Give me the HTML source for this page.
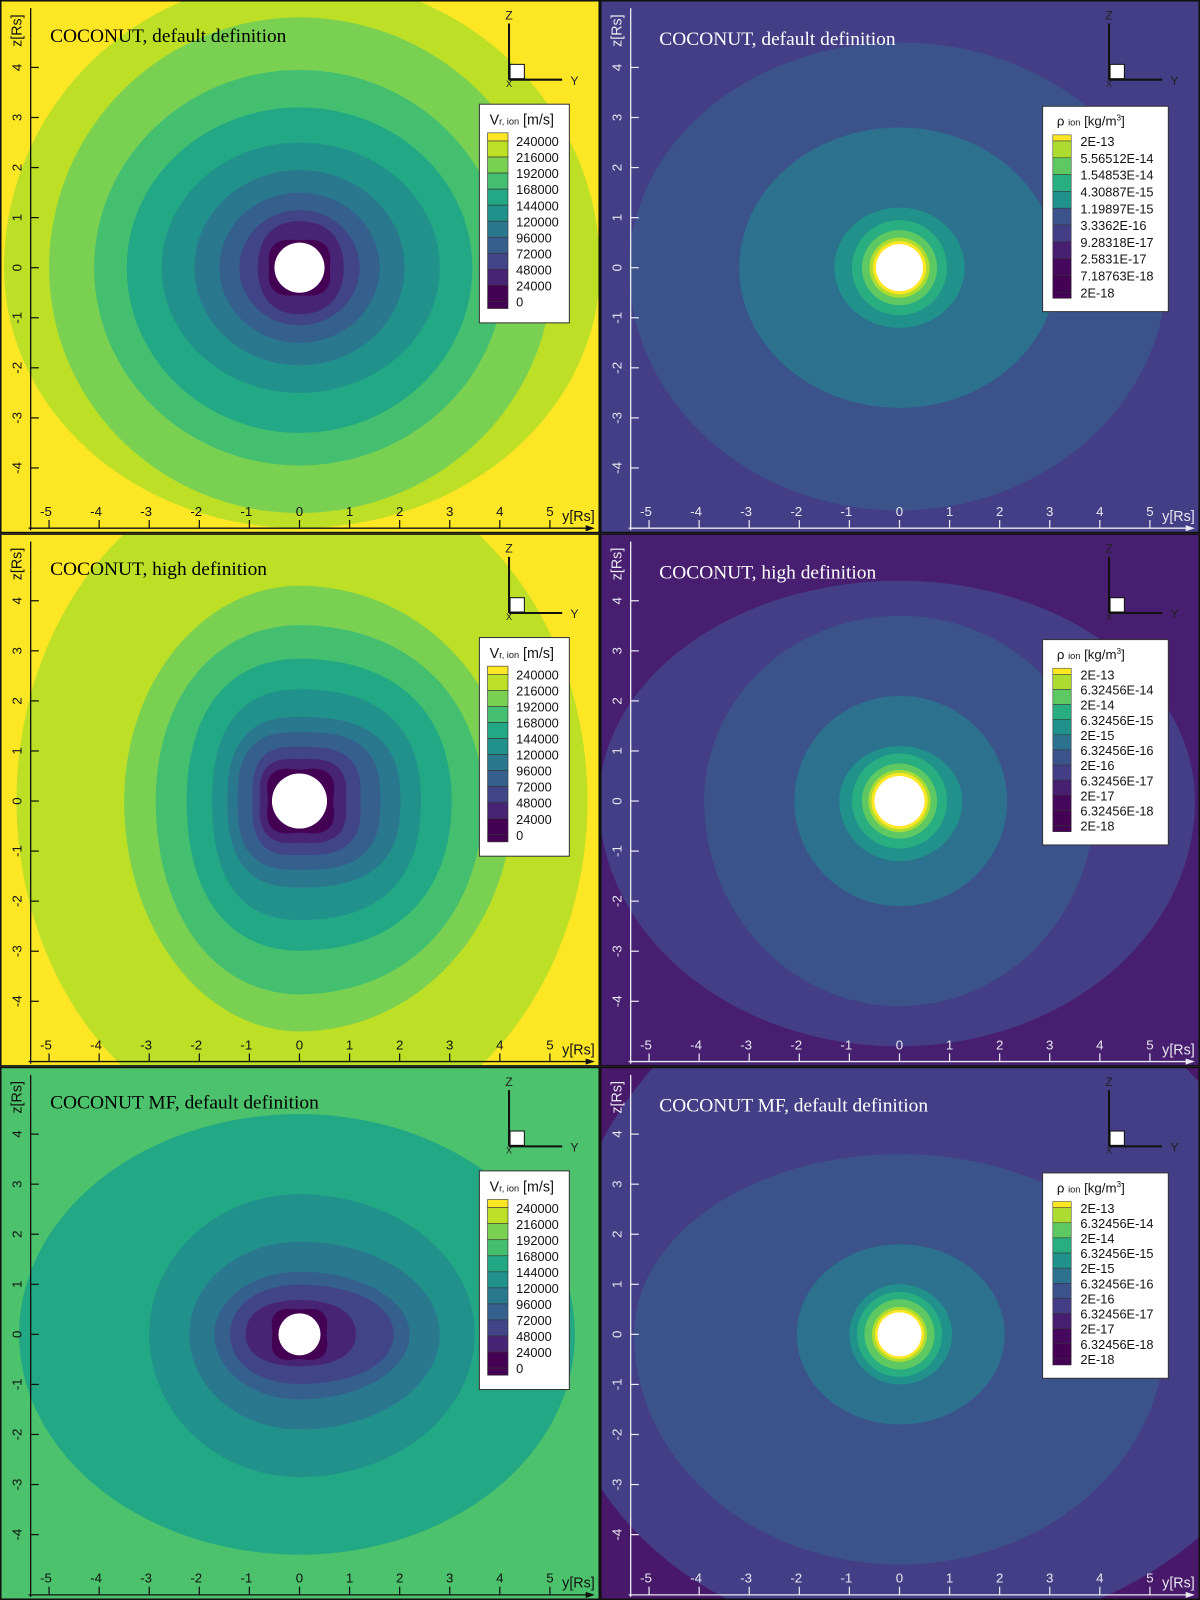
<!DOCTYPE html>
<html><head><meta charset="utf-8"><style>
html,body{margin:0;padding:0;background:#fff}
svg{display:block}
text{font-family:"Liberation Sans",sans-serif}
.ttl{font-family:"Liberation Serif",serif;font-size:19px}
</style></head><body>
<svg id="fig" xmlns="http://www.w3.org/2000/svg" width="1200" height="1600" viewBox="0 0 1174 1566" preserveAspectRatio="none"></svg>
<script>
// ---- data ----
const vrLevels = ["240000","216000","192000","168000","144000","120000","96000","72000","48000","24000","0"];
const rhoLevelsDefault = ["2E-13","5.56512E-14","1.54853E-14","4.30887E-15","1.19897E-15","3.3362E-16","9.28318E-17","2.5831E-17","7.18763E-18","2E-18"];
const rhoLevelsHigh = ["2E-13","6.32456E-14","2E-14","6.32456E-15","2E-15","6.32456E-16","2E-16","6.32456E-17","2E-17","6.32456E-18","2E-18"];
const vrColors = ["#fde725","#bddf26","#7ad151","#44bf70","#22a884","#21918c","#2a788e","#355f8d","#414487","#482475","#440154"];
const rhoColors = ["#fde725","#addc30","#5ec962","#28ae80","#21918c","#2c728e","#3b528b","#433e85","#481f70","#46085c","#440154"];
const yTicks = [-5,-4,-3,-2,-1,0,1,2,3,4,5];
const zTicks = [-4,-3,-2,-1,0,1,2,3,4];
// contour bands: [right, top, left, bottom, wave, color] (radii in Rs)
const p1Bands = [[6.0,5.8,5.9,5.2,0,"#bddf26"],[5.05,5.0,5.0,4.9,0,"#7ad151"],[4.1,3.95,4.1,3.95,0,"#44bf70"],[3.45,3.2,3.45,3.3,0,"#22a884"],[2.8,2.5,2.75,2.5,0,"#21918c"],[2.1,1.95,2.1,1.95,0,"#2a788e"],[1.6,1.5,1.6,1.5,0,"#355f8d"],[1.2,1.15,1.2,1.15,0,"#414487"],[0.9,0.95,0.85,0.95,0.02,"#482475"],[0.66,0.6,0.66,0.6,0.08,"#440154"]];
const p2Bands = [[5.35,4.5,5.4,4.85,0,"#3b528b"],[3.15,2.8,3.2,2.8,0,"#2c728e"],[1.3,1.2,1.3,1.2,0,"#21918c"],[0.95,0.95,0.95,0.95,0,"#28ae80"],[0.75,0.75,0.75,0.75,0,"#5ec962"],[0.6,0.6,0.6,0.6,0,"#addc30"],[0.53,0.53,0.53,0.53,0,"#fde725"]];
const p3Bands = [[5.75,6.8,5.65,6.8,0,"#bddf26"],[4.25,4.3,3.5,4.6,0,"#7ad151"],[3.7,3.55,2.9,3.9,0.01,"#44bf70"],[3.1,2.9,2.3,3.05,0.02,"#22a884"],[2.5,2.3,1.8,2.45,0.03,"#21918c"],[2.1,1.75,1.5,1.8,0.04,"#2a788e"],[1.7,1.45,1.3,1.45,0.05,"#355f8d"],[1.3,1.15,1.0,1.15,0.06,"#414487"],[1.0,0.9,0.85,0.9,0.07,"#482475"],[0.75,0.7,0.7,0.7,0.1,"#440154"]];
const p4Bands = [[5.9,4.4,6.0,4.9,0,"#433e85"],[3.9,3.7,3.9,4.1,0,"#3b528b"],[2.15,2.1,2.1,2.1,0,"#2c728e"],[1.25,1.1,1.2,1.2,0,"#21918c"],[0.95,0.95,0.95,0.95,0,"#28ae80"],[0.75,0.75,0.75,0.75,0,"#5ec962"],[0.62,0.62,0.62,0.62,0,"#addc30"],[0.56,0.56,0.56,0.56,0,"#fde725"]];
const p5Bands = [[5.5,4.4,5.6,4.4,0,"#22a884"],[3.5,2.8,3.0,2.85,0,"#21918c"],[2.8,1.85,2.2,1.9,0,"#2a788e"],[2.2,1.25,1.7,1.3,0,"#355f8d"],[1.9,1.0,1.4,1.0,0.01,"#414487"],[1.15,0.7,1.1,0.65,0.02,"#482475"],[0.6,0.55,0.6,0.55,0.1,"#440154"]];
const p6Bands = [[8.0,7.6,6.9,6.1,0,"#433e85"],[5.3,3.6,5.3,4.6,0,"#3b528b"],[2.1,1.8,2.05,1.8,0,"#2c728e"],[1.05,1.0,1.0,1.0,0,"#21918c"],[0.85,0.85,0.85,0.85,0,"#28ae80"],[0.7,0.7,0.7,0.7,0,"#5ec962"],[0.55,0.55,0.55,0.55,0,"#addc30"],[0.49,0.49,0.49,0.49,0,"#fde725"]];

const NS="http://www.w3.org/2000/svg";
const svg=document.getElementById('fig');
const U=49;
function mk(tag,attrs,parent){const e=document.createElementNS(NS,tag);for(const k in attrs)e.setAttribute(k,attrs[k]);(parent||svg).appendChild(e);return e;}
function txt(s,attrs,parent){const e=mk('text',attrs,parent);e.textContent=s;return e;}

const panels=[
 {ox:0,oy:0,bg:"#fde725",bands:p1Bands,white:0.5,title:"COCONUT, default definition",kind:"vr",dark:true,name:"vr-default"},
 {ox:587,oy:0,bg:"#433e85",bands:p2Bands,white:0.47,title:"COCONUT, default definition",kind:"rho",labels:rhoLevelsDefault,dark:false,name:"rho-default"},
 {ox:0,oy:522,bg:"#fde725",bands:p3Bands,white:0.55,title:"COCONUT, high definition",kind:"vr",dark:true,name:"vr-high"},
 {ox:587,oy:522,bg:"#481f70",bands:p4Bands,white:0.5,title:"COCONUT, high definition",kind:"rho",labels:rhoLevelsHigh,dark:false,name:"rho-high"},
 {ox:0,oy:1044,bg:"#4cc26c",bands:p5Bands,white:0.42,title:"COCONUT  MF, default definition",kind:"vr",dark:true,name:"vr-mf"},
 {ox:587,oy:1044,bg:"#48186a",bands:p6Bands,white:0.44,title:"COCONUT MF, default definition",kind:"rho",labels:rhoLevelsHigh,dark:false,name:"rho-mf"}
];

panels.forEach((p,i)=>{
 const W=587,H=522;
 const cx=p.ox+293, cy=p.oy+262;
 const sx=y=>cx+y*U, sz=z=>cy-z*U;
 const g=mk('g',{});
 
 
 const cp=mk('clipPath',{id:'cp'+i},g);
 mk('rect',{x:p.ox,y:p.oy,width:W,height:H},cp);
 const body=mk('g',{'clip-path':'url(#cp'+i+')'},g);
 const bg=mk('rect',{x:p.ox,y:p.oy,width:W,height:H,fill:p.bg},body);
 
 
 p.bands.forEach(b=>{
  const [R,T,L,B,w,col]=b;let d='';
  for(let k=0;k<=180;k++){const th=k*2*Math.PI/180;const c=Math.cos(th),s=Math.sin(th);
   const rx=c>=0?R:L, ry=s>=0?T:B; const f=1-w*Math.cos(4*th);
   d+=(k?'L':'M')+sx(rx*c*f).toFixed(1)+' '+sz(ry*s*f).toFixed(1);}
  const pa=mk('path',{d:d+'Z',fill:col},body);
  
  
 });
 const wc=mk('circle',{cx:cx,cy:cy,r:p.white*U,fill:'#fff'},body);
 
 
 const ac=p.dark?'#111':'#e8e8f0';
 const ax=p.ox+30, ay=p.oy+517;
 const zl=mk('line',{x1:ax,y1:p.oy+519,x2:ax,y2:p.oy+8,stroke:ac,'stroke-width':1.3},body);
 
 
 const yl=mk('line',{x1:p.ox+28,y1:ay,x2:p.ox+580,y2:ay,stroke:ac,'stroke-width':1.3},body);
 
 
 mk('path',{d:`M${p.ox+582} ${ay} l-9 -3 l0 6z`,fill:ac},body);
 yTicks.forEach(t=>{
  mk('line',{x1:sx(t),y1:ay,x2:sx(t),y2:ay-8,stroke:ac,'stroke-width':1.2},body);
  const tl=txt(String(t),{x:sx(t)-(t<0?3:0),y:p.oy+505,'text-anchor':'middle','font-size':13,fill:ac},body);
  
  
 });
 zTicks.forEach(t=>{
  mk('line',{x1:ax,y1:sz(t),x2:ax+8,y2:sz(t),stroke:ac,'stroke-width':1.2},body);
  const tl=txt(String(t),{x:0,y:0,'text-anchor':'middle','font-size':13,fill:ac,transform:`translate(${p.ox+21},${sz(t)}) rotate(-90)`},body);
  
  
 });
 const yt=txt('y[Rs]',{x:p.ox+550,y:p.oy+510,'font-size':14,fill:ac},body);
 
 
 const zt=txt('z[Rs]',{x:0,y:0,'font-size':14,fill:ac,'text-anchor':'middle',transform:`translate(${p.ox+21},${p.oy+30}) rotate(-90)`},body);
 
 
 const tt=txt(p.title,{x:p.ox+(p.dark?49:58),y:p.oy+(p.dark?41:44),class:'ttl',fill:p.dark?'#000':'#fff'},body);
 
 
 const tx=p.ox+498, ty=p.oy+78;
 const tri=mk('g',{},body);
 
 
 mk('line',{x1:tx,y1:ty,x2:tx,y2:ty-55,stroke:'#111','stroke-width':2},tri);
 mk('line',{x1:tx,y1:ty,x2:tx+52,y2:ty,stroke:'#111','stroke-width':2},tri);
 mk('rect',{x:tx+1,y:ty-15,width:14,height:14,fill:'#fff',stroke:'#111','stroke-width':1},tri);
 txt('Z',{x:tx,y:ty-59,'font-size':12,'text-anchor':'middle',fill:'#222'},tri);
 txt('Y',{x:tx+60,y:ty+5,'font-size':12,fill:'#222'},tri);
 txt('X',{x:tx,y:ty+7,'font-size':9,'text-anchor':'middle',fill:'#222'},tri);
 const lg=mk('g',{},body);
 
 
 if(p.kind==='vr'){
  const lx=p.ox+469, ly=p.oy+102;
  mk('rect',{x:lx,y:ly,width:88,height:214,fill:'#fff',stroke:'#333','stroke-width':1},lg);
  const t=txt('',{x:lx+10,y:ly+20,'font-size':14,fill:'#111'},lg);
  t.innerHTML='V<tspan font-size="9">r, ion</tspan> [m/s]';
  const top=ly+36, step=15.7;
  mk('rect',{x:lx+8,y:ly+28,width:20,height:8,fill:vrColors[0],stroke:'#333','stroke-width':0.6},lg);
  for(let k=0;k<vrLevels.length;k++){
   const col=vrColors[Math.min(k+1,vrColors.length-1)];
   const h=k<vrLevels.length-1?step:7;
   mk('rect',{x:lx+8,y:top+k*step,width:20,height:h,fill:col,stroke:'#333','stroke-width':0.6},lg);
   txt(vrLevels[k],{x:lx+36,y:top+k*step+5,'font-size':12.5,fill:'#111'},lg);
  }
 } else {
  const lx=p.ox+433, ly=p.oy+104;
  mk('rect',{x:lx,y:ly,width:123,height:201,fill:'#fff',stroke:'#333','stroke-width':1},lg);
  const t=txt('',{x:lx+14,y:ly+19,'font-size':13,fill:'#111'},lg);
  t.innerHTML='ρ <tspan font-size="9">ion</tspan> [kg/m<tspan font-size="8" dy="-5">3</tspan><tspan dy="5">]</tspan>';
  const n=p.labels.length, top=ly+34, span=148, step=span/(n-1);
  for(let k=0;k<n;k++){
   const y0=k===0?ly+28:top+(k-1)*step;
   const h=k===0?top-(ly+28):step;
   mk('rect',{x:lx+10,y:y0,width:18,height:h,fill:rhoColors[Math.round(k*(rhoColors.length-1)/(n-1))],stroke:'#333','stroke-width':0.5},lg);
   txt(p.labels[k],{x:lx+37,y:top+k*step+5,'font-size':12.5,fill:'#111'},lg);
  }
  mk('rect',{x:lx+10,y:top+(n-1)*step,width:18,height:6,fill:'#440154',stroke:'#333','stroke-width':0.5},lg);
 }
 mk('rect',{x:p.ox+0.75,y:p.oy+0.75,width:W-1.5,height:H-1.5,fill:'none',stroke:'#111','stroke-width':1.5},g);
});
</script>
</body></html>
